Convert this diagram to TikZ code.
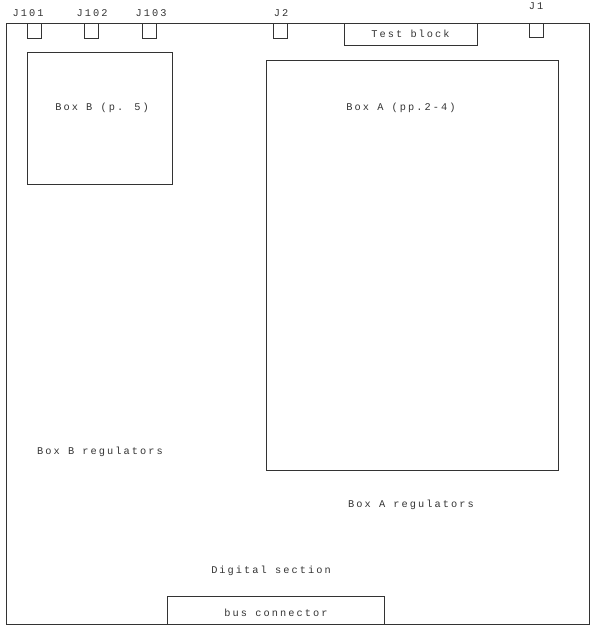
\documentclass[tikz,border=0pt]{standalone}
\usepackage{fontspec}
\usepackage{tikz}
\usetikzlibrary{positioning}
\newfontfamily\boardfont[LetterSpace=20]{Liberation Mono}
\definecolor{boardline}{HTML}{333333}

\begin{document}
\begin{tikzpicture}[
  x=1pt, y=-1pt,
  every node/.style={font=\boardfont\fontsize{10.3}{12}\selectfont, text=boardline},
  partbox/.style={draw=boardline, line width=0.6pt, inner sep=0pt, outer sep=0pt},
  jackbox/.style={partbox, minimum width=14pt, minimum height=15pt, anchor=north},
  tag/.style={inner sep=0pt}
]
  \useasboundingbox (0,0) rectangle (592,626);
  % board outline
  \node[partbox, minimum width=583pt, minimum height=601pt] (board) at (297.5,323.5) {};
  % jacks along the top edge
  \node[jackbox] (j101) at (34,23) {};
  \node[jackbox] (j102) at (91.5,23) {};
  \node[jackbox] (j103) at (149,23) {};
  \node[jackbox] (j2) at (280,23) {};
  \node[jackbox, minimum height=14pt] (j1) at (536.5,23) {};
  \node[tag] at (28,13) {J101};
  \node[tag] at (92,13) {J102};
  \node[tag] at (151,13) {J103};
  \node[tag] at (281,13) {J2};
  \node[tag] at (536,6) {J1};
  % test block
  \node[partbox, minimum width=133pt, minimum height=22pt, anchor=north] (test) at (410.5,23) {Test block};
  % boxes
  \node[partbox, minimum width=145pt, minimum height=132pt] (boxB) at (99.5,118) {};
  \node[tag] at (102,108) {Box B (p. 5)};
  \node[partbox, minimum width=292pt, minimum height=410pt] (boxA) at (412,265) {};
  \node[tag] at (401,108) {Box A (pp.2-4)};
  % regulators and digital part
  \node[tag] (regB) at (100,452) {Box B regulators};
  \node[tag] (regA) at (411,505) {Box A regulators};
  \node[tag] (digital) at (271,571) {Digital section};
  % bus connector
  \node[partbox, minimum width=217pt, minimum height=28pt, anchor=south] (bus) at (275.5,624) {};
  \node[tag] at (276,613) {bus connector};
\end{tikzpicture}
\end{document}
